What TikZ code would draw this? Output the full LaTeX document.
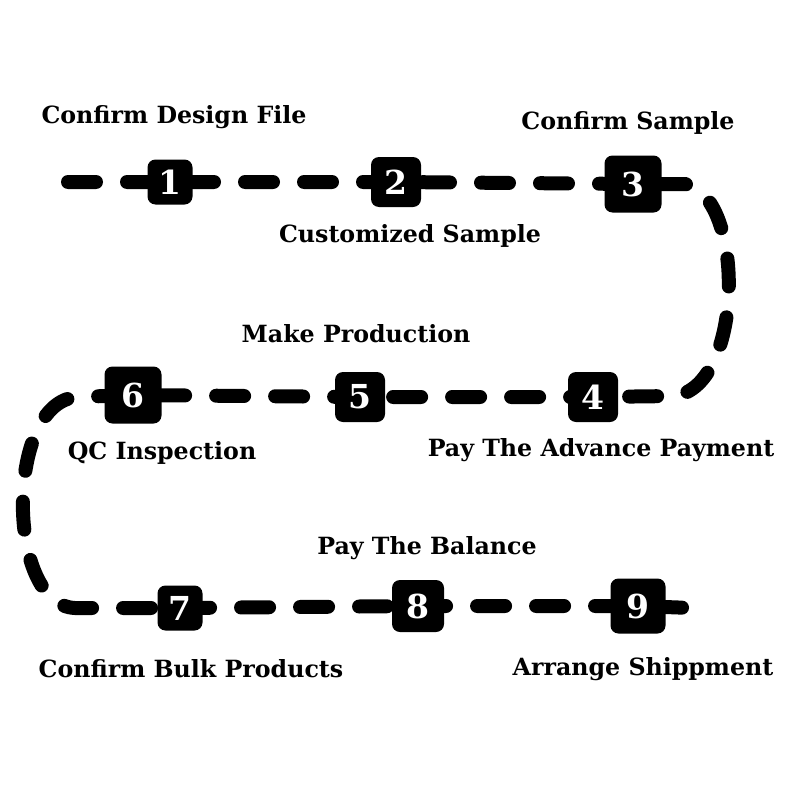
\documentclass[tikz,border=0pt]{standalone}
\usepackage{fontspec}
\setmainfont{DejaVu Serif}
\usetikzlibrary{backgrounds}

\begin{document}
\begin{tikzpicture}[x=1pt,y=-1pt,
  every node/.style={font=\bfseries\fontsize{23.7}{26}\selectfont},
  stepbox/.style={fill=black,rounded corners=8pt,inner sep=0pt,text=white,
    font=\bfseries\fontsize{33}{34}\selectfont},
  trail/.style={line width=14pt,line cap=round,dash pattern=on 28pt off 31pt}]
\useasboundingbox (0,0) rectangle (800,800);
\node[stepbox,minimum size=45pt] (s1) at (170,182) {1};
\node[stepbox,minimum size=50pt] (s2) at (396,182) {2};
\node[stepbox,minimum size=57pt] (s3) at (633,184) {3};
\node[stepbox,minimum size=50pt] (s4) at (593,397) {4};
\node[stepbox,minimum size=50pt] (s5) at (360,397) {5};
\node[stepbox,minimum size=57pt] (s6) at (133,395) {6};
\node[stepbox,minimum size=45pt] (s7) at (180,608) {7};
\node[stepbox,minimum size=52pt] (s8) at (418,606) {8};
\node[stepbox,minimum size=55pt] (s9) at (638,606) {9};
\node (l1) at (174,117) {Confirm Design File};
\node (l2) at (410,236) {Customized Sample};
\node (l3) at (628,123) {Confirm Sample};
\node (l4) at (601,450) {Pay The Advance Payment};
\node (l5) at (356,334) {Make Production};
\node (l6) at (162,453) {QC Inspection};
\node (l7) at (191,669) {Confirm Bulk Products};
\node (l8) at (427,548) {Pay The Balance};
\node (l9) at (643,669) {Arrange Shippment};
\coordinate (start) at (68,182);
\coordinate (turnA) at (685,184);
\coordinate (turnB) at (675,396);
\coordinate (turnC) at (78,397);
\coordinate (turnD) at (75,608);
\coordinate (finish) at (692,608);
\begin{scope}[on background layer]
\draw[trail] (start) -- (s1.center) -- (s2.center) -- (s3.center) -- (turnA)
  .. controls (745,195) and (745,385) .. (turnB) -- (s4.center) -- (s5.center)
  -- (s6.center) -- (turnC) .. controls (5,400) and (5,605) .. (turnD)
  -- (s7.center) -- (s8.center) -- (s9.center) -- (finish);
\end{scope}
\end{tikzpicture}
\end{document}
